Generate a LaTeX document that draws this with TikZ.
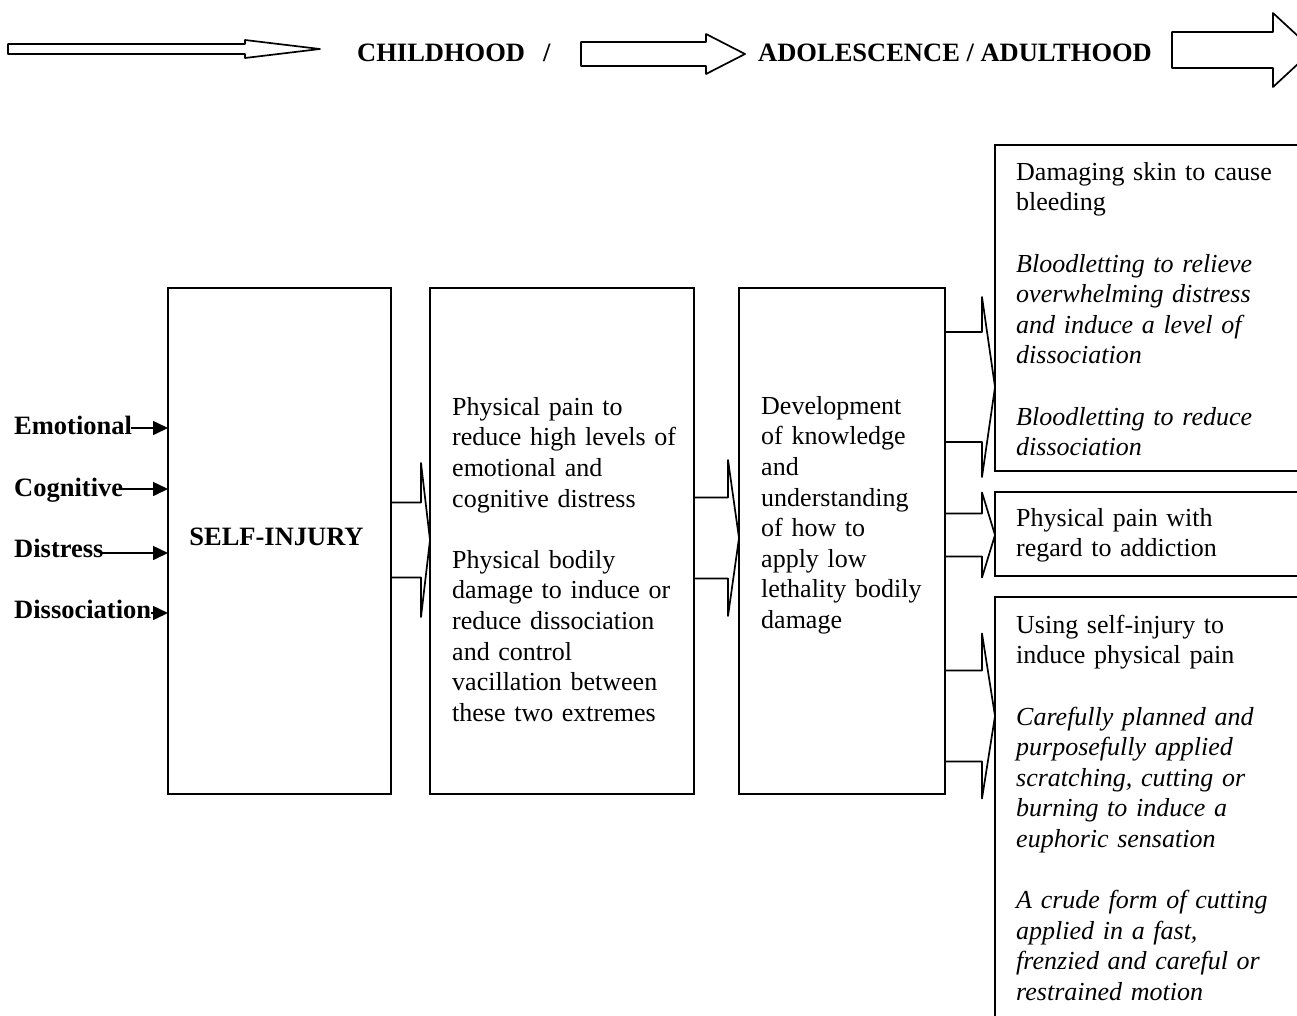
\documentclass[tikz,border=0pt]{standalone}
\usepackage{fontspec}
\setmainfont{Liberation Serif}
\usetikzlibrary{calc,arrows.meta}
\setlength\parindent{0pt}

% Block arrow: #1 gives the x of the tail, #2 the tip,
% #3 half shaft height, #4 half head height, #5 head length
\newcommand\blockarr[5]{%
  \coordinate (bs) at (#2 -| #1);
  \coordinate (bh) at ($(#2)+(-#5,0)$);
  \draw[arrowline] ($(bs)+(0,-#3)$) -- ($(bh)+(0,-#3)$) -- ($(bh)+(0,-#4)$)
    -- (#2) -- ($(bh)+(0,#4)$) -- ($(bh)+(0,#3)$) -- ($(bs)+(0,#3)$) -- cycle;}

\begin{document}
\begin{tikzpicture}[x=1pt,y=-1pt,
  outline/.style={line width=1.7pt},
  arrowline/.style={line width=1.7pt, line join=round},
  box/.style={outline, draw, rectangle, anchor=north west, inner sep=0pt, outer sep=0pt},
  body/.style={anchor=north west, inner sep=0pt, text width=295pt, align=left,
               font=\fontsize{26}{30.6}\selectfont},
  tag/.style={inner sep=0pt, font=\fontsize{26.5}{30.6}\selectfont\bfseries},
  feed/.style={line width=1.6pt, -{Triangle[length=15pt,width=14pt]}}
]
\useasboundingbox (0,0) rectangle (1297,1015);
\fill[white] (0,0) rectangle (1297,1015);
\clip (0,0) rectangle (1297,1015);

% time line along the top
\node[tag, anchor=base west] (child) at (357,61) {CHILDHOOD\hspace{18pt}/};
\node[tag, anchor=base west] (adol) at (758,61) {ADOLESCENCE / ADULTHOOD};
\coordinate (a1s) at (8,49);    \coordinate (a1t) at (320,49);
\coordinate (a2s) at (581,54);  \coordinate (a2t) at (745,54);
\coordinate (a3s) at (1172,50); \coordinate (a3t) at (1313,50);
\blockarr{a1s}{a1t}{5}{9}{75}
\blockarr{a2s}{a2t}{12}{20}{39}
\blockarr{a3s}{a3t}{18}{37}{40}

% main boxes
\node[box, minimum width=223pt, minimum height=506pt] (si)  at (168,288) {};
\node[box, minimum width=264pt, minimum height=506pt] (mid) at (430,288) {};
\node[box, minimum width=206pt, minimum height=506pt] (dev) at (739,288) {};
\node[box, minimum width=330pt, minimum height=326pt] (r1)  at (995,145) {};
\node[box, minimum width=330pt, minimum height=84pt]  (r2)  at (995,492) {};
\node[box, minimum width=330pt, minimum height=500pt] (r3)  at (995,597) {};

\node[tag] (sit) at ($(si.center)+(-3,-4)$) {SELF-INJURY};

\node[body] (midtext) at (452,393.6) {\strut Physical pain to\\reduce high levels of\\emotional and\\cognitive distress\\[30.6pt]Physical bodily\\damage to induce or\\reduce dissociation\\and control\\vacillation between\\these two extremes};

\node[body] (devtext) at (761,392.6) {\strut Development\\of knowledge\\and\\understanding\\of how to\\apply low\\lethality bodily\\damage};

\node[body] (r1text) at (1016,158.6) {\strut Damaging skin to cause\\bleeding\\[30.6pt]{\itshape Bloodletting to relieve\\overwhelming distress\\and induce a level of\\dissociation\\[30.6pt]Bloodletting to reduce\\dissociation}};

\node[body] (r2text) at (1016,504.6) {\strut Physical pain with\\regard to addiction};

\node[body] (r3text) at (1016,611.6) {\strut Using self-injury to\\induce physical pain\\[30.6pt]{\itshape Carefully planned and\\purposefully applied\\scratching, cutting or\\burning to induce a\\euphoric sensation\\[30.6pt]A crude form of cutting\\applied in a fast,\\frenzied and careful or\\restrained motion}};

% inputs on the left
\node[tag, anchor=base west] (emo) at (14,434) {Emotional};
\node[tag, anchor=base west] (cog) at (14,496) {Cognitive};
\node[tag, anchor=base west] (dis) at (14,557) {Distress};
\node[tag, anchor=base west] (dsc) at (14,618) {Dissociation};
\coordinate (emoA) at ($(emo.base east)+(-1,-6)$);
\coordinate (cogA) at ($(cog.base east)+(-1,-7)$);
\coordinate (disA) at ($(dis.base east)+(-2,-4)$);
\coordinate (dscA) at ($(dsc.base east)+(0,-5)$);
\draw[feed] (emoA) -- (emoA -| si.west);
\draw[feed] (cogA) -- (cogA -| si.west);
\draw[feed] (disA) -- (disA -| si.west);
\draw[feed] (dscA) -- (dscA -| si.west);

% block arrows between the stages
\coordinate (t0) at ($(mid.north west)+(0,252)$);
\coordinate (t1) at ($(dev.north west)+(0,250)$);
\coordinate (t2) at ($(r1.north west)+(0,242)$);
\coordinate (t3) at ($(r2.north west)+(0,43)$);
\coordinate (t4) at ($(r3.north west)+(0,119)$);
\blockarr{si.east}{t0}{37.5}{77}{9}
\blockarr{mid.east}{t1}{40.5}{78}{11}
\blockarr{dev.east}{t2}{55}{90}{13}
\blockarr{dev.east}{t3}{21.5}{42.5}{13}
\blockarr{dev.east}{t4}{45.5}{82.5}{13}
\end{tikzpicture}
\end{document}
